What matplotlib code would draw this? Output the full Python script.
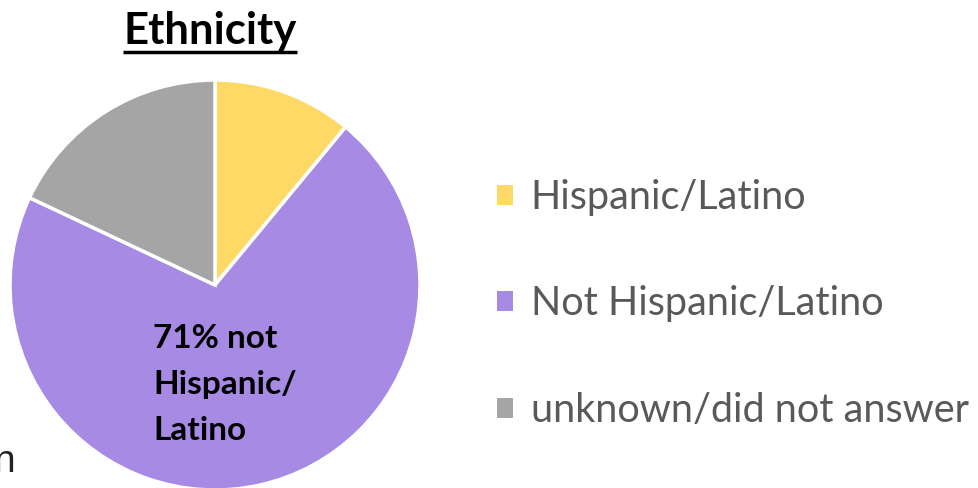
import matplotlib
matplotlib.use("Agg")
import matplotlib.pyplot as plt
from matplotlib.patches import Patch

categories = ["Hispanic/Latino", "Not Hispanic/Latino", "unknown/did not answer"]
shares = [11, 71, 18]
colors = ["#FFD966", "#A68AE4", "#A5A5A5"]

title = "Ethnicity"
callout = "71% not\nHispanic/\nLatino"

W, H, DPI = 979, 488, 100
fig = plt.figure(figsize=(W / DPI, H / DPI), dpi=DPI)
ax = fig.add_axes([0, 0, 1, 1])

# pie of radius 1 centred at the origin; 1 unit = 205 px
scale = 205.0
cx, cy = 215.0, 285.0


def px(x, y):
    return (x - cx) / scale, (cy - y) / scale


ax.pie(
    shares, colors=colors, startangle=90, counterclock=False, radius=1.0,
    wedgeprops=dict(edgecolor="white", linewidth=2.5),
)
ax.set_xlim(-cx / scale, (W - cx) / scale)
ax.set_ylim(-(H - cy) / scale, cy / scale)
ax.set_aspect("auto")
ax.axis("off")

# title with underline
tx, ty = px(210, 44)
t = ax.text(tx, ty, title, fontsize=31.5, fontweight="bold", family="Lato",
            ha="center", va="baseline", color="black")
fig.canvas.draw()
bb = t.get_window_extent(renderer=fig.canvas.get_renderer())
inv = ax.transData.inverted()
(x0, _), (x1, _) = inv.transform([(bb.x0, 0), (bb.x1, 0)])
uy = px(0, 51.5)[1]
ax.plot([x0, x1], [uy, uy], color="black", lw=2.5, solid_capstyle="butt")

# callout inside the large slice
lx, ly = px(153, 324)
ax.text(lx, ly, callout, fontsize=24, fontweight="bold", family="Lato",
        ha="left", va="top", linespacing=1.7, color="black")

# clipped text at the left edge
nx, ny = px(15, 472)
ax.text(nx, ny, "n", fontsize=28, family="Liberation Sans",
        ha="right", va="baseline", color="#222222")

handles = [Patch(facecolor=c, edgecolor="none") for c in colors]
fig.legend(
    handles, categories, loc="center left", bbox_to_anchor=(497 / W, 1 - 304 / H),
    frameon=False, prop=dict(family="Lato", size=28.5), labelcolor="#595959",
    handlelength=0.4, handleheight=0.4, handletextpad=0.45, labelspacing=1.75,
    borderaxespad=0, borderpad=0,
)

fig.savefig("out.png", dpi=DPI)
